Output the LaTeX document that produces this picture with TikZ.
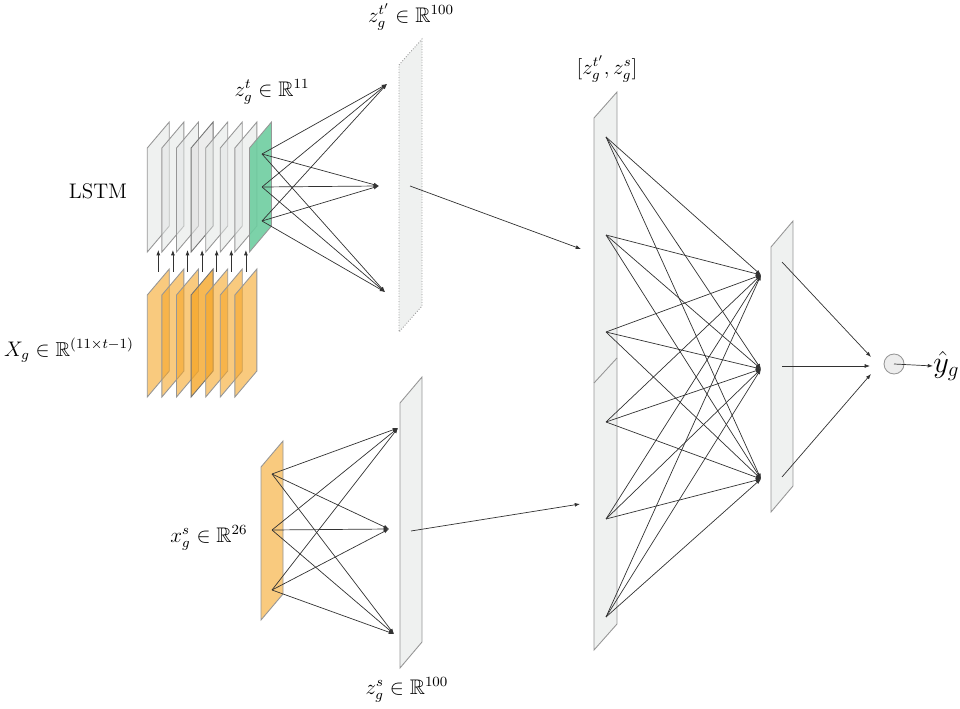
\documentclass[tikz,border=0pt]{standalone}
\usepackage{amsmath,amssymb}
\usetikzlibrary{arrows.meta}
\definecolor{sheetgray}{RGB}{226,229,228}
\definecolor{sheetline}{RGB}{150,150,150}
\definecolor{sheetorange}{RGB}{245,166,40}
\definecolor{sheetgreen}{RGB}{110,205,160}
\definecolor{linkcol}{RGB}{50,50,50}
\newcommand\sheetpath[4]{(#1,#2) -- ++(#3,-26) -- ++(0,#4) -- ++(-#3,26) -- cycle}
\tikzset{
  graysheet/.style={draw=sheetline, line width=0.5pt, fill=sheetgray, fill opacity=0.55},
  orangesheet/.style={draw=sheetline, line width=0.5pt, fill=sheetorange, fill opacity=0.6},
  greensheet/.style={draw=sheetline, line width=0.5pt, fill=sheetgreen, fill opacity=0.9},
  dottedsheet/.style={draw=sheetline, line width=0.5pt, densely dotted, fill=sheetgray, fill opacity=0.55},
  link/.style={draw=linkcol, line width=0.4pt, -{Latex[length=3pt,width=2.2pt]}},
  lbl/.style={inner sep=0pt, font=\large},
}
\begin{document}
\begin{tikzpicture}[x=0.02cm, y=-0.02cm]
\useasboundingbox (0,0) rectangle (960,709);
% LSTM gray sheets
\foreach \i in {0,...,6} {
  \pgfmathsetmacro\lx{147.3+14.6*\i}
  \ifnum\i=3
    \path[graysheet, draw=black!55, fill=black!12, fill opacity=0.6] \sheetpath{\lx}{148}{22}{104};
  \else
    \path[graysheet] \sheetpath{\lx}{148}{22}{104};
  \fi
}
\path[greensheet] \sheetpath{249.5}{148}{22}{104};
% orange input sheets
\foreach \i in {0,...,6} {
  \pgfmathsetmacro\lx{147.3+14.6*\i}
  \ifnum\i=3
    \path[orangesheet, draw=black!55, fill opacity=0.8] \sheetpath{\lx}{295}{22}{102};
  \else
    \path[orangesheet] \sheetpath{\lx}{295}{22}{102};
  \fi
}
% vertical arrows orange -> LSTM
\foreach \i in {0,...,6} {
  \pgfmathsetmacro\ax{158.3+14.6*\i}
  \coordinate (up\i) at (\ax,272);
  \coordinate (upe\i) at (\ax,250);
  \draw[link] (up\i) -- (upe\i);
}
% dashed z_t' sheet
\path[dottedsheet] \sheetpath{399}{65}{23}{267};
% z_s sheet
\path[graysheet] \sheetpath{400}{403}{22}{265};
% x_s sheet
\path[orangesheet] \sheetpath{261}{467}{22}{153};
% big concatenation sheet
\path[graysheet] \sheetpath{594}{118}{23}{532};
\draw[sheetline, line width=0.5pt] (594,383) -- (617,358);
% right sheet
\path[graysheet] \sheetpath{771}{247}{22}{265};

% coordinates
\coordinate (g1) at (262,154); \coordinate (g2) at (262,187); \coordinate (g3) at (262,221);
\coordinate (t1) at (387,84);  \coordinate (t2) at (379,186); \coordinate (t3) at (385,292);
\coordinate (s1) at (272,474); \coordinate (s2) at (272,530); \coordinate (s3) at (272,590);
\coordinate (u1) at (398,428); \coordinate (u2) at (389,529); \coordinate (u3) at (394,634);
\coordinate (b1) at (606,137); \coordinate (b2) at (606,235); \coordinate (b3) at (606,332);
\coordinate (b4) at (606,422); \coordinate (b5) at (606,519); \coordinate (b6) at (606,617);
\coordinate (h1) at (761,275); \coordinate (h2) at (761,369); \coordinate (h3) at (761,479);
\coordinate (r1) at (782,262); \coordinate (r2) at (782,366); \coordinate (r3) at (782,477);
\coordinate (o1) at (871,357); \coordinate (o2) at (870,366); \coordinate (o3) at (871,374);
\coordinate (zt) at (410,186); \coordinate (ztE) at (581,249);
\coordinate (zs) at (411,531); \coordinate (zsE) at (580,504);

\foreach \a in {g1,g2,g3} \foreach \b in {t1,t2,t3} \draw[link] (\a) -- (\b);
\foreach \a in {s1,s2,s3} \foreach \b in {u1,u2,u3} \draw[link] (\a) -- (\b);
\foreach \a in {b1,b2,b3,b4,b5,b6} \foreach \b in {h1,h2,h3} \draw[link] (\a) -- (\b);
\draw[link] (r1) -- (o1);
\draw[link] (r2) -- (o2);
\draw[link] (r3) -- (o3);
\draw[link] (zt) -- (ztE);
\draw[link] (zs) -- (zsE);

% output
\node[circle, draw=sheetline, fill=black!7, line width=0.5pt, minimum size=20*0.02cm, inner sep=0pt] (out) at (894,364) {};
\node[inner sep=0pt, anchor=west, font=\LARGE] (yhat) at (933,366) {$\hat{y}_g$};
\draw[link] (out.center) -- (yhat.west);

% labels
\node[inner sep=0pt, font=\large] (lstm) at (98,191) {LSTM};
\node[inner sep=0pt, font=\fontsize{11.5}{14}\selectfont] (xlab) at (69,350) {$X_g \in \mathbb{R}^{(11\times t-1)}$};
\node[lbl] (ztlab) at (272,92) {$z_g^t \in \mathbb{R}^{11}$};
\node[lbl] (ztplab) at (411,17) {$z_g^{t'} \in \mathbb{R}^{100}$};
\node[lbl] (catlab) at (607,69) {$[z_g^{t'}, z_g^{s}]$};
\node[lbl] (xslab) at (209,538) {$x_g^s \in \mathbb{R}^{26}$};
\node[lbl] (zslab) at (407,690) {$z_g^s \in \mathbb{R}^{100}$};
\end{tikzpicture}
\end{document}
